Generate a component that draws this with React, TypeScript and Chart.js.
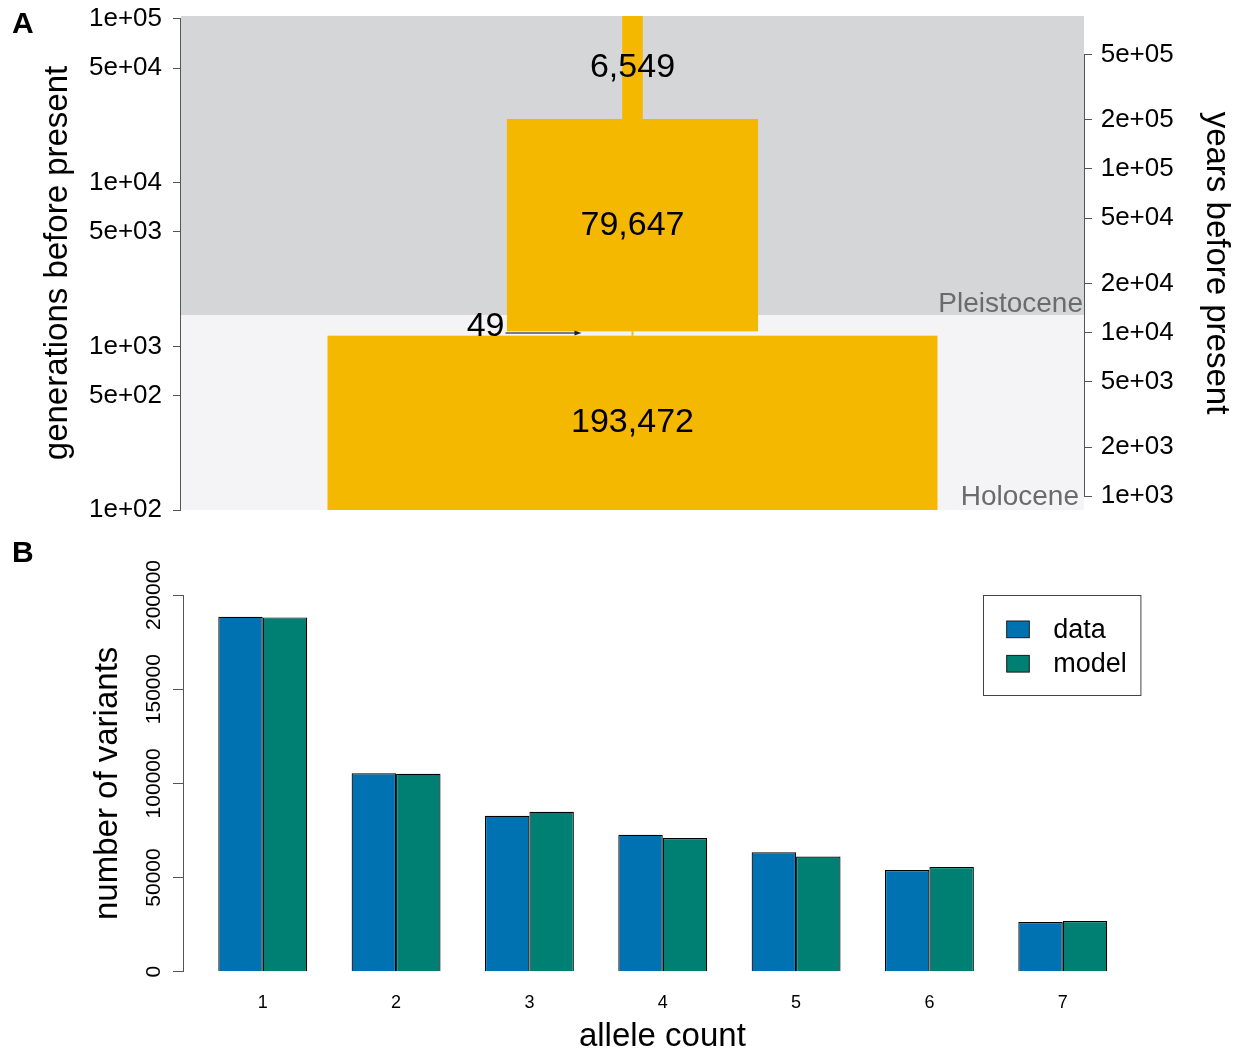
import React, { useEffect, useRef } from 'react';
import { Chart, registerables } from 'chart.js';

Chart.register(...registerables);

const FONT = "'Liberation Sans', Arial, Helvetica, sans-serif";

// ---- Panel A: inferred population history ----
// Effective population size of each epoch, from the present going back in time.
const epochSizes = [193472, 49, 79647, 6549];
// Generations before present where one epoch gives way to the next older one.
const epochBreaksGen = [1162, 1235, 24500];
const generationTicks = [100, 500, 1000, 5000, 10000, 50000, 100000];
const yearTicks = [1000, 2000, 5000, 10000, 20000, 50000, 100000, 200000, 500000];
const generationRange = [100, 104300];
const yearsPerGeneration = 8.25;
const geologicEpochs = ['Holocene', 'Pleistocene'];
const holoceneStartYears = 12800;
const sizeAxisHalfWidth = 143200;

// ---- Panel B: site frequency spectrum ----
const alleleCounts = [1, 2, 3, 4, 5, 6, 7];
const observedCounts = [188400, 105300, 82800, 72700, 63400, 54000, 26400];
const modelCounts = [188100, 105100, 84900, 71000, 61100, 55600, 26900];
const variantTicks = [0, 50000, 100000, 150000, 200000];
const seriesNames = ['data', 'model'];

const GOLD = '#f5b800';
const BLUE = '#0072b2';
const TEAL = '#008072';
const AXIS = '#555555';

function sci(v: number): string {
  const e = Math.floor(Math.log10(v) + 1e-9);
  const m = Math.round(v / Math.pow(10, e));
  return `${m}e+${String(e).padStart(2, '0')}`;
}

// fixed axis thickness, no extra room reserved for overhanging labels
function fixWidth(w: number) {
  return (s: any) => {
    s.width = w;
    s.paddingTop = 0;
    s.paddingBottom = 0;
    s.paddingLeft = 0;
    s.paddingRight = 0;
  };
}
function fixHeight(h: number) {
  return (s: any) => {
    s.height = h;
    s.paddingTop = 0;
    s.paddingBottom = 0;
    s.paddingLeft = 0;
    s.paddingRight = 0;
  };
}

const demographyPlugin = {
  id: 'demography',
  beforeDatasetsDraw(chart: any) {
    const { ctx, chartArea: a, scales } = chart;
    const xs = scales.x;
    const ys = scales.y;
    const y2 = scales.y2;
    const w = a.right - a.left;
    const yBoundary = ys.getPixelForValue(holoceneStartYears / yearsPerGeneration);

    ctx.save();
    // geological periods as background bands
    ctx.fillStyle = '#d5d6d8';
    ctx.fillRect(a.left, a.top, w, yBoundary - a.top);
    ctx.fillStyle = '#f4f4f6';
    ctx.fillRect(a.left, yBoundary, w, a.bottom - yBoundary);

    ctx.font = `28px ${FONT}`;
    ctx.fillStyle = '#6b6b6b';
    ctx.textAlign = 'right';
    ctx.textBaseline = 'alphabetic';
    ctx.fillText(geologicEpochs[1], a.right - 1, yBoundary - 3);
    ctx.fillText(geologicEpochs[0], a.right - 5, a.bottom - 5);

    // population size through time: one block per epoch, width = size
    const cx = xs.getPixelForValue(0);
    const blocks = epochSizes.map((n, i) => {
      const gYoung = i === 0 ? ys.min : epochBreaksGen[i - 1];
      const gOld = i < epochBreaksGen.length ? epochBreaksGen[i] : ys.max;
      const yTop = ys.getPixelForValue(gOld);
      const yBot = ys.getPixelForValue(gYoung);
      let xl = xs.getPixelForValue(-n / 2);
      let xr = xs.getPixelForValue(n / 2);
      const narrow = xr - xl < 2;
      if (narrow) {
        xl = cx - 1;
        xr = cx + 1;
      }
      ctx.fillStyle = GOLD;
      ctx.fillRect(xl, yTop, xr - xl, yBot - yTop);
      return { n, yTop, yBot, narrow };
    });

    ctx.fillStyle = '#000';
    ctx.font = `34px ${FONT}`;
    ctx.textBaseline = 'middle';
    blocks.forEach((b) => {
      const ym = (b.yTop + b.yBot) / 2;
      const text = b.n.toLocaleString('en-US');
      if (b.narrow) {
        const x0 = cx - 127;
        const x1 = cx - 51;
        ctx.strokeStyle = AXIS;
        ctx.lineWidth = 1.5;
        ctx.beginPath();
        ctx.moveTo(x0, ym - 0.5);
        ctx.lineTo(x1 - 4, ym - 0.5);
        ctx.stroke();
        ctx.fillStyle = '#222';
        ctx.beginPath();
        ctx.moveTo(x1, ym - 0.5);
        ctx.lineTo(x1 - 7, ym - 3);
        ctx.lineTo(x1 - 7, ym + 2);
        ctx.closePath();
        ctx.fill();
        ctx.fillStyle = '#000';
        ctx.textAlign = 'right';
        ctx.fillText(text, x0 - 1, ym - 7);
      } else {
        ctx.textAlign = 'center';
        ctx.fillText(text, cx, ym);
      }
    });

    // axis lines spanning first to last tick
    ctx.strokeStyle = AXIS;
    ctx.lineWidth = 1;
    ctx.beginPath();
    const xlAxis = Math.round(a.left) - 0.5;
    ctx.moveTo(xlAxis, ys.getPixelForValue(generationTicks[0]));
    ctx.lineTo(xlAxis, ys.getPixelForValue(generationTicks[generationTicks.length - 1]));
    const xrAxis = Math.round(a.right) + 0.5;
    ctx.moveTo(xrAxis, y2.getPixelForValue(yearTicks[0]));
    ctx.lineTo(xrAxis, y2.getPixelForValue(yearTicks[yearTicks.length - 1]));
    ctx.stroke();
    ctx.restore();
  },
  afterDraw(chart: any) {
    const { ctx } = chart;
    ctx.save();
    ctx.font = `bold 30px ${FONT}`;
    ctx.fillStyle = '#000';
    ctx.textAlign = 'left';
    ctx.textBaseline = 'alphabetic';
    ctx.fillText('A', 12, 33);
    ctx.restore();
  },
};

const sfsPlugin = {
  id: 'sfsLegend',
  afterDatasetsDraw(chart: any) {
    const { ctx, chartArea: a } = chart;
    const bw = 158.4;
    const bh = 101;
    const left = a.right - bw;
    const top = a.top;
    ctx.save();
    ctx.fillStyle = '#fff';
    ctx.fillRect(left, top, bw, bh);
    ctx.strokeStyle = '#444';
    ctx.lineWidth = 1;
    ctx.strokeRect(Math.round(left) + 0.5, Math.round(top) + 0.5, bw - 1, bh - 1);
    ctx.font = `27px ${FONT}`;
    ctx.textAlign = 'left';
    ctx.textBaseline = 'middle';
    chart.data.datasets.forEach((ds: any, i: number) => {
      const yc = top + 34.3 + i * 34.4;
      ctx.fillStyle = ds.backgroundColor;
      ctx.fillRect(left + 23.4, yc - 8.3, 22.6, 16.7);
      ctx.strokeStyle = '#1a1a1a';
      ctx.strokeRect(left + 23.4, yc - 8.3, 22.6, 16.7);
      ctx.fillStyle = '#000';
      ctx.fillText(ds.label, left + 70, yc + 1);
    });
    ctx.restore();
  },
  afterDraw(chart: any) {
    const { ctx } = chart;
    ctx.save();
    ctx.font = `bold 30px ${FONT}`;
    ctx.fillStyle = '#000';
    ctx.textAlign = 'left';
    ctx.textBaseline = 'alphabetic';
    ctx.fillText('B', 12, 32);
    ctx.restore();
  },
};

export default function App() {
  const refA = useRef<HTMLCanvasElement>(null);
  const refB = useRef<HTMLCanvasElement>(null);

  useEffect(() => {
    const tickGrid = (len: number) => ({
      display: true,
      drawOnChartArea: false,
      drawTicks: true,
      tickLength: len,
      tickColor: AXIS,
      tickWidth: 1,
    });

    const chartA = new Chart(refA.current as HTMLCanvasElement, {
      type: 'scatter',
      data: { datasets: [] },
      plugins: [demographyPlugin],
      options: {
        responsive: false,
        maintainAspectRatio: false,
        animation: false,
        events: [],
        layout: { padding: { top: 16, bottom: 20, left: 0, right: 0 } },
        plugins: { legend: { display: false }, tooltip: { enabled: false } },
        scales: {
          x: {
            type: 'linear',
            display: false,
            min: -sizeAxisHalfWidth,
            max: sizeAxisHalfWidth,
          },
          y: {
            type: 'logarithmic',
            position: 'left',
            min: generationRange[0],
            max: generationRange[1],
            afterBuildTicks: (s: any) => {
              s.ticks = generationTicks.map((v) => ({ value: v }));
            },
            afterFit: fixWidth(181),
            grid: tickGrid(8),
            border: { display: false },
            ticks: {
              callback: (v: any) => sci(Number(v)),
              font: { family: FONT, size: 26 },
              color: '#000',
              padding: 11,
              autoSkip: false,
            },
            title: {
              display: true,
              text: 'generations before present',
              font: { family: FONT, size: 33 },
              color: '#000',
              padding: { top: 37.7, bottom: 0 },
            },
          },
          y2: {
            type: 'logarithmic',
            position: 'right',
            min: generationRange[0] * yearsPerGeneration,
            max: generationRange[1] * yearsPerGeneration,
            afterBuildTicks: (s: any) => {
              s.ticks = yearTicks.map((v) => ({ value: v }));
            },
            afterFit: fixWidth(154),
            grid: tickGrid(8),
            border: { display: false },
            ticks: {
              callback: (v: any) => sci(Number(v)),
              font: { family: FONT, size: 26 },
              color: '#000',
              padding: 8.7,
              autoSkip: false,
            },
            title: {
              display: true,
              text: 'years before present',
              font: { family: FONT, size: 33 },
              color: '#000',
              padding: { top: 2.5, bottom: 0 },
            },
          },
        },
      } as any,
    });

    const chartB = new Chart(refB.current as HTMLCanvasElement, {
      type: 'bar',
      data: {
        datasets: [
          {
            label: seriesNames[0],
            data: alleleCounts.map((c, i) => ({ x: c, y: observedCounts[i] })),
            backgroundColor: BLUE,
            borderColor: '#000',
            borderWidth: 1.2,
            categoryPercentage: 2 / 3,
            barPercentage: 1,
          },
          {
            label: seriesNames[1],
            data: alleleCounts.map((c, i) => ({ x: c, y: modelCounts[i] })),
            backgroundColor: TEAL,
            borderColor: '#000',
            borderWidth: 1.2,
            categoryPercentage: 2 / 3,
            barPercentage: 1,
          },
        ],
      },
      plugins: [sfsPlugin],
      options: {
        responsive: false,
        maintainAspectRatio: false,
        animation: false,
        events: [],
        layout: { padding: { top: 65, right: 96.3, bottom: 0, left: 0 } },
        plugins: { legend: { display: false }, tooltip: { enabled: false } },
        scales: {
          x: {
            type: 'linear',
            offset: false,
            min: 0.402,
            max: 7.592,
            afterBuildTicks: (s: any) => {
              s.ticks = alleleCounts.map((v) => ({ value: v }));
            },
            afterFit: fixHeight(85.3),
            grid: { display: false },
            border: { display: false },
            ticks: {
              callback: (v: any) => String(v),
              font: { family: FONT, size: 18 },
              color: '#000',
              padding: 12.3,
              maxRotation: 0,
              minRotation: 0,
              autoSkip: false,
            },
            title: {
              display: true,
              text: 'allele count',
              font: { family: FONT, size: 33 },
              color: '#000',
              padding: { top: 0, bottom: 0.6 },
            },
          },
          y: {
            type: 'linear',
            min: variantTicks[0],
            max: variantTicks[variantTicks.length - 1],
            afterBuildTicks: (s: any) => {
              s.ticks = variantTicks.map((v) => ({ value: v }));
            },
            afterFit: fixWidth(183),
            grid: tickGrid(10),
            border: { display: true, color: AXIS, width: 1 },
            ticks: {
              callback: (v: any) => String(v),
              font: { family: FONT, size: 21 },
              color: '#000',
              minRotation: 90,
              maxRotation: 90,
              crossAlign: 'center',
              padding: -16.5,
              autoSkip: false,
            },
            title: {
              display: true,
              text: 'number of variants',
              font: { family: FONT, size: 33 },
              color: '#000',
              padding: { top: 87.8, bottom: 0 },
            },
          },
        },
      } as any,
    });

    return () => {
      chartA.destroy();
      chartB.destroy();
    };
  }, []);

  return (
    <div
      style={{
        position: 'absolute',
        left: 0,
        top: 0,
        width: 1238,
        height: 1057,
        background: '#fff',
        overflow: 'hidden',
      }}
    >
      <canvas ref={refA} width={1238} height={530} style={{ position: 'absolute', left: 0, top: 0 }} />
      <canvas ref={refB} width={1238} height={527} style={{ position: 'absolute', left: 0, top: 530 }} />
    </div>
  );
}
